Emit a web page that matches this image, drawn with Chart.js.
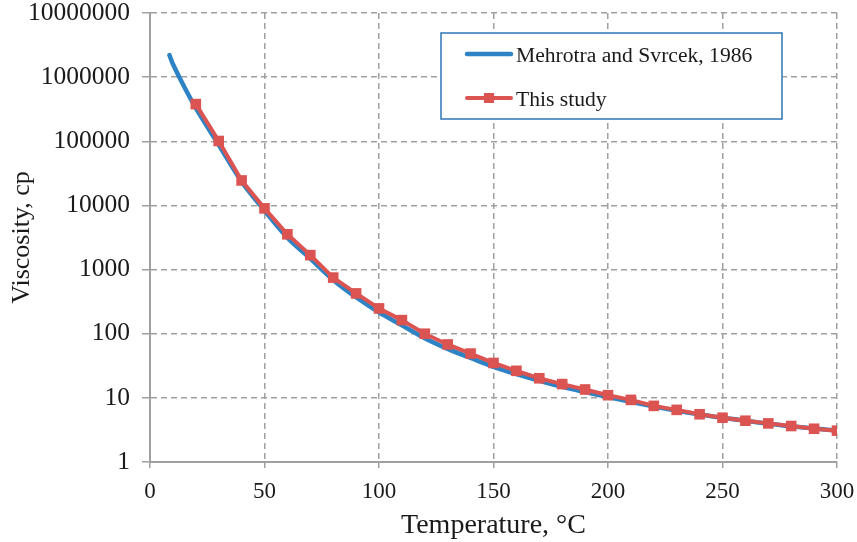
<!DOCTYPE html>
<html><head><meta charset="utf-8">
<script src="https://cdn.jsdelivr.net/npm/chart.js@4.4.1/dist/chart.umd.min.js"></script>
<style>html,body{margin:0;padding:0;background:#fff}#wrap{width:857px;height:542px}</style>
</head><body>
<div id="wrap"><canvas id="c" width="857" height="542"></canvas></div>
<script>
const seriesNames = ['Mehrotra and Svrcek, 1986', 'This study'];
const mehrotraTemps = [8.5, 10, 15, 20, 30, 40, 50, 60, 70, 80, 90, 100, 110, 120, 130, 140, 150, 160, 170, 180, 190, 200, 220, 240, 260, 280, 300];
const mehrotraVisc  = [2200000, 1600000, 700000, 330000, 88000, 23500, 8300, 3150, 1480, 690, 370, 215, 135, 85, 58, 42, 30.5, 23.5, 18.5, 14.8, 12.3, 10.3, 7.3, 5.5, 4.4, 3.6, 3.1];
const studyTemps = [20, 30, 40, 50, 60, 70, 80, 90, 100, 110, 120, 130, 140, 150, 160, 170, 180, 190, 200, 210, 220, 230, 240, 250, 260, 270, 280, 290, 300];
const studyVisc  = [380000, 101000, 24500, 9000, 3550, 1680, 750, 425, 248, 163, 100, 68, 49, 35, 26.4, 20.2, 16.4, 13.5, 11.0, 9.3, 7.5, 6.5, 5.55, 4.9, 4.4, 4.0, 3.64, 3.3, 3.08];
const xTicks = [0, 50, 100, 150, 200, 250, 300];
const yTicks = [1, 10, 100, 1000, 10000, 100000, 1000000, 10000000];
const yTickLabels = ['1', '10', '100', '1000', '10000', '100000', '1000000', '10000000'];
const xTitle = 'Temperature, °C';
const yTitle = 'Viscosity, cp';

const FONT = '"Liberation Serif", "Times New Roman", serif';
const TEXT = '#1a1a1a';
const GRID = '#a0a0a0';
const BLUE = '#2d83c4';
const RED = '#db5452';

Chart.defaults.font.family = FONT;
Chart.defaults.color = TEXT;

const toPts = (xs, ys) => xs.map((x, i) => ({x: x, y: ys[i]}));

const boxLegend = {
  id: 'boxLegend',
  afterDraw(chart) {
    const ctx = chart.ctx, a = chart.chartArea;
    const x0 = a.left + 291, y0 = a.top + 20, w = 341, h = 86;
    ctx.save();
    ctx.fillStyle = '#fff';
    ctx.fillRect(x0, y0, w, h);
    ctx.strokeStyle = '#2e75b6';
    ctx.lineWidth = 1.5;
    ctx.strokeRect(x0, y0, w, h);
    chart.data.datasets.forEach((ds, i) => {
      const cy = y0 + 21 + i * 44;
      ctx.strokeStyle = ds.borderColor;
      ctx.lineWidth = ds.borderWidth;
      ctx.lineCap = 'round';
      ctx.beginPath(); ctx.moveTo(x0 + 26, cy); ctx.lineTo(x0 + 70, cy); ctx.stroke();
      if (ds.pointRadius > 0) {
        ctx.fillStyle = ds.pointBackgroundColor;
        ctx.fillRect(x0 + 48 - 5, cy - 5, 10, 10);
      }
      ctx.fillStyle = TEXT;
      ctx.font = '21.6px ' + FONT;
      ctx.textBaseline = 'alphabetic';
      ctx.textAlign = 'left';
      ctx.fillText(ds.label, x0 + 75, cy + 8);
    });
    ctx.restore();
  }
};

new Chart(document.getElementById('c'), {
  type: 'line',
  data: {
    datasets: [
      {
        label: seriesNames[0],
        data: toPts(mehrotraTemps, mehrotraVisc),
        borderColor: BLUE, backgroundColor: BLUE,
        borderWidth: 4.5, pointRadius: 0, tension: 0.3, order: 2,
        borderCapStyle: 'round', borderJoinStyle: 'round'
      },
      {
        label: seriesNames[1],
        data: toPts(studyTemps, studyVisc),
        borderColor: RED, backgroundColor: RED,
        pointBackgroundColor: RED, pointBorderColor: RED,
        pointStyle: 'rect', pointRadius: 7.5, pointBorderWidth: 0,
        borderWidth: 4, tension: 0, order: 1,
        borderJoinStyle: 'round'
      }
    ]
  },
  options: {
    responsive: false,
    animation: false,
    layout: { padding: { top: 13, right: 20, bottom: 0, left: 0 } },
    plugins: { legend: { display: false }, tooltip: { enabled: false } },
    scales: {
      x: {
        type: 'linear', min: 0, max: 300,
        afterBuildTicks: s => { s.ticks = xTicks.map(v => ({value: v})); },
        afterFit: s => { s.height = 80; s.paddingLeft = 0; s.paddingRight = 0; },
        ticks: { font: { size: 23 }, color: TEXT, padding: 10, maxRotation: 0, autoSkip: false },
        grid: { color: GRID, lineWidth: 1.5, tickLength: 6,
                tickColor: GRID, tickWidth: 1.5, tickBorderDash: [] },
        border: { display: true, color: GRID, width: 2, dash: [6, 4] },
        title: { display: true, text: xTitle, font: { size: 28 }, color: TEXT, padding: { top: 3, bottom: 0 } }
      },
      y: {
        type: 'logarithmic', min: 1, max: 10000000,
        afterBuildTicks: s => { s.ticks = yTicks.map(v => ({value: v})); },
        afterFit: s => { s.width = 150; s.paddingTop = 0; s.paddingBottom = 0; },
        ticks: { font: { size: 25.5 }, color: TEXT, padding: 12, autoSkip: false,
                 callback: (v) => yTickLabels[yTicks.indexOf(v)] },
        grid: { color: GRID, lineWidth: 1.5, tickLength: 8,
                tickColor: GRID, tickWidth: 1.5, tickBorderDash: [] },
        border: { display: true, color: GRID, width: 2, dash: [6, 4] },
        title: { display: true, text: yTitle, font: { size: 26 }, color: TEXT, padding: { top: 7, bottom: 0 } }
      }
    }
  },
  plugins: [boxLegend]
});
</script>
</body></html>
